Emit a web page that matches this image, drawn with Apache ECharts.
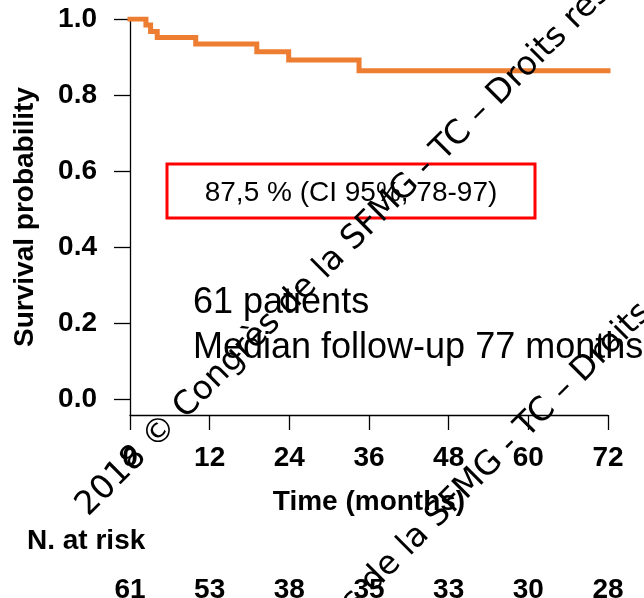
<!DOCTYPE html>
<html>
<head>
<meta charset="utf-8">
<script src="https://cdn.jsdelivr.net/npm/echarts@6/dist/echarts.min.js"></script>
<style>
  html, body { margin: 0; padding: 0; background: #fff; }
  #chart { width: 644px; height: 598px; }
</style>
</head>
<body>
<div id="chart"></div>
<script>
// Kaplan-Meier steps: [time in months, survival]
const kmTimes = [0, 2.4, 3.1, 4.1, 9.9, 19.1, 23.9, 34.5, 72]
const kmSurvival = [1.0, 0.984, 0.967, 0.951, 0.934, 0.914, 0.892, 0.864, 0.864]

const xTicks = [0, 12, 24, 36, 48, 60, 72]
const yTicks = [0, 0.2, 0.4, 0.6, 0.8, 1.0]
const atRisk = [61, 53, 38, 35, 33, 30, 28]

const ciText = '87,5 % (CI 95%, 78-97)'
const infoLines = ['61 patients', 'Median follow-up 77 months']
const watermark = '2018 © Congrès de la SFMG - TC – Droits réservés'

const FONT = "'Liberation Sans', Arial, sans-serif"
const WM_FONT = "'DejaVu Sans', sans-serif"

const chart = echarts.init(document.getElementById('chart'), null, { renderer: 'canvas' })

const option = {
  backgroundColor: '#fff',
  animation: false,
  grid: { left: 130, right: 36, top: 19, bottom: 183, containLabel: false, outerBoundsMode: 'none' },
  xAxis: [
    {
      type: 'value',
      min: 0,
      max: 72,
      interval: 12,
      name: 'Time (months)',
      nameLocation: 'middle',
      nameGap: 73,
      nameTextStyle: { fontFamily: FONT, fontWeight: 'bold', fontSize: 28, color: '#000' },
      axisLine: { show: true, onZero: false, lineStyle: { color: '#000', width: 1.3 } },
      axisTick: { show: true, length: 15, lineStyle: { color: '#000', width: 1.3 } },
      axisLabel: {
        margin: 29,
        fontFamily: FONT, fontWeight: 'bold', fontSize: 28, color: '#000'
      },
      splitLine: { show: false }
    },
    {
      // number at risk row, sharing the time scale
      type: 'value',
      min: 0,
      max: 72,
      interval: 12,
      position: 'bottom',
      axisLine: { show: false },
      axisTick: { show: false },
      splitLine: { show: false },
      axisLabel: {
        margin: 161,
        fontFamily: FONT, fontWeight: 'bold', fontSize: 28, color: '#000',
        formatter: v => {
          const i = xTicks.indexOf(v)
          return i >= 0 ? String(atRisk[i]) : ''
        }
      }
    }
  ],
  yAxis: {
    type: 'value',
    min: -0.0421,
    max: 1,
    name: 'Survival probability',
    nameLocation: 'middle',
    nameGap: 91,
    nameTextStyle: { fontFamily: FONT, fontWeight: 'bold', fontSize: 28, color: '#000' },
    axisLine: { show: true, lineStyle: { color: '#000', width: 1.3 } },
    axisTick: { show: true, length: 16, customValues: yTicks, lineStyle: { color: '#000', width: 1.3 } },
    axisLabel: {
      margin: 33,
      customValues: yTicks,
      fontFamily: FONT, fontWeight: 'bold', fontSize: 28, color: '#000',
      formatter: v => v.toFixed(1)
    },
    splitLine: { show: false }
  },
  series: [
    {
      type: 'line',
      step: 'end',
      symbol: 'none',
      data: kmTimes.map((t, i) => [t, kmSurvival[i]]),
      lineStyle: { color: '#ED7D31', width: 5, cap: 'square', join: 'miter' },
      z: 3
    }
  ],
  graphic: [
    {
      type: 'rect',
      shape: { x: 167, y: 164, width: 368, height: 54 },
      style: { fill: 'none', stroke: '#FF0000', lineWidth: 3 },
      z: 5
    },
    {
      type: 'text',
      x: 351, y: 193,
      style: {
        text: ciText, fontFamily: FONT, fontSize: 28, fill: '#000',
        textAlign: 'center', textVerticalAlign: 'middle'
      },
      z: 5
    },
    {
      type: 'text',
      x: 193, y: 303,
      style: {
        text: infoLines[0], fontFamily: FONT, fontSize: 36, fill: '#000',
        textAlign: 'left', textVerticalAlign: 'middle'
      },
      z: 5
    },
    {
      type: 'text',
      x: 193, y: 348,
      style: {
        text: infoLines[1], fontFamily: FONT, fontSize: 36, fill: '#000',
        textAlign: 'left', textVerticalAlign: 'middle'
      },
      z: 5
    },
    {
      type: 'text',
      x: 27, y: 541,
      style: {
        text: 'N. at risk', fontFamily: FONT, fontWeight: 'bold', fontSize: 28, fill: '#000',
        textAlign: 'left', textVerticalAlign: 'middle'
      },
      z: 5
    },
    // diagonal watermark, twice
    {
      type: 'text',
      x: 82, y: 511,
      rotation: Math.PI / 4,
      style: {
        text: watermark, fontFamily: WM_FONT, fontSize: 33, fill: '#000',
        textAlign: 'left', textVerticalAlign: 'middle'
      },
      z: 10
    },
    {
      type: 'text',
      x: 166, y: 788,
      rotation: Math.PI / 4,
      style: {
        text: watermark, fontFamily: WM_FONT, fontSize: 33, fill: '#000',
        textAlign: 'left', textVerticalAlign: 'middle'
      },
      z: 10
    }
  ]
}

chart.setOption(option)
</script>
</body>
</html>
